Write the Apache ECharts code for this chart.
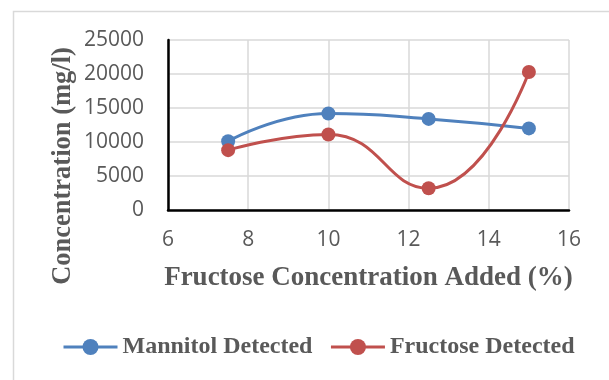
<!DOCTYPE html>
<html>
<head>
<meta charset="utf-8">
<script src="https://cdn.jsdelivr.net/npm/echarts@6/dist/echarts.min.js"></script>
<style>html,body{margin:0;padding:0;background:#fff;}#c{width:609px;height:380px;}</style>
</head>
<body>
<div id="c"></div>
<script>
var fructoseAdded = [7.5, 10, 12.5, 15];
var mannitolDetected = [10100, 14200, 13400, 12000];
var fructoseDetected = [8800, 11100, 3200, 20300];
var seriesNames = ['Mannitol Detected', 'Fructose Detected'];
var xTitle = 'Fructose Concentration Added (%)';
var yTitle = 'Concentration (mg/l)';

function pairs(xs, ys) { return xs.map(function (x, i) { return [x, ys[i]]; }); }

var chart = echarts.init(document.getElementById('c'), null, {renderer: 'canvas'});
var serif = '"Liberation Serif", "Times New Roman", serif';
var sans = '"Open Sans", "Liberation Sans", sans-serif';
chart.setOption({
  animation: false,
  backgroundColor: '#fff',
  graphic: [
    {type: 'rect', shape: {x: 13.5, y: 11.5, width: 700, height: 500}, style: {fill: 'none', stroke: '#d9d9d9', lineWidth: 1.5}, z: -10},
    {type: 'text', x: 63, y: 166, rotation: Math.PI / 2,
     style: {text: yTitle, font: 'bold 26.5px ' + serif, fill: '#595959', align: 'center', verticalAlign: 'middle'}}
  ],
  grid: {left: 168, top: 40, right: 40, bottom: 170, containLabel: false},
  legend: {
    left: 62, top: 335, padding: 0, itemWidth: 54, itemHeight: 20, itemGap: 17,
    data: seriesNames,
    lineStyle: {width: 3},
    textStyle: {fontFamily: serif, fontWeight: 'bold', fontSize: 24, color: '#595959'}
  },
  xAxis: {
    type: 'value', min: 6, max: 16, interval: 2,
    name: xTitle, nameLocation: 'middle', nameGap: 55,
    nameTextStyle: {fontFamily: serif, fontWeight: 'bold', fontSize: 27, color: '#595959'},
    axisLine: {show: true, onZero: false, lineStyle: {color: '#000', width: 2.5}},
    axisTick: {show: false},
    axisLabel: {margin: 20, fontFamily: sans, fontSize: 21, color: '#595959'},
    splitLine: {show: true, lineStyle: {color: '#d9d9d9', width: 1.5}}
  },
  yAxis: {
    type: 'value', min: 0, max: 25000, interval: 5000,
    axisLine: {show: true, lineStyle: {color: '#000', width: 2.5}},
    axisTick: {show: false},
    axisLabel: {margin: 24, fontFamily: sans, fontSize: 21, color: '#595959', formatter: function (v) { return String(v); }},
    splitLine: {show: true, lineStyle: {color: '#d9d9d9', width: 1.5}}
  },
  series: [
    {name: seriesNames[0], type: 'line', smooth: 0.5, data: pairs(fructoseAdded, mannitolDetected),
     symbol: 'circle', symbolSize: 14, color: '#4f81bd', lineStyle: {width: 3, color: '#4f81bd'}, itemStyle: {color: '#4f81bd'}},
    {name: seriesNames[1], type: 'line', smooth: 0.5, data: pairs(fructoseAdded, fructoseDetected),
     symbol: 'circle', symbolSize: 14, color: '#c0504d', lineStyle: {width: 3, color: '#c0504d'}, itemStyle: {color: '#c0504d'}}
  ]
});
</script>
</body>
</html>
